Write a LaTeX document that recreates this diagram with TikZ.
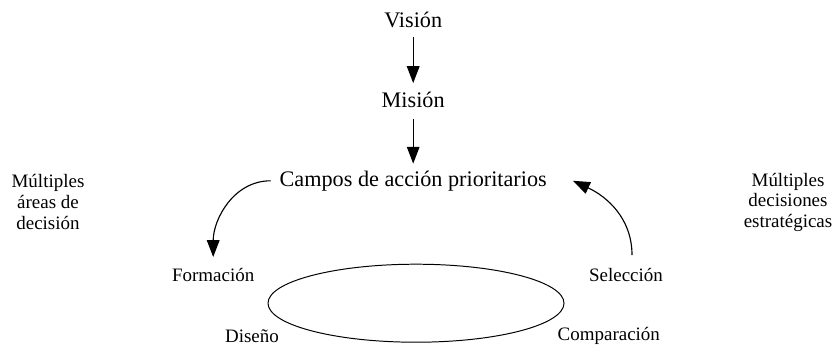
\documentclass[tikz,border=0pt]{standalone}
\usepackage{fontspec}
\setmainfont{Liberation Serif}
\usepackage{tikz}
\usetikzlibrary{shapes.geometric, arrows.meta, positioning}

\begin{document}
\begin{tikzpicture}[
        big/.style = {font=\fontsize{15.8}{19}\selectfont, inner sep=2pt},
        small/.style = {font=\fontsize{13.5}{14.6}\selectfont, align=center, inner sep=2pt},
        arr/.style = {-{Triangle[length=12pt, width=9pt]}, line width=0.8pt}
    ]
    \useasboundingbox (0,0) rectangle (20.875,-8.675);

    \node[big] (vision) at (10.33,-0.50) {Visión};
    \node[big] (mision) at (10.33,-2.50) {Misión};
    \node[big] (campos) at (10.33,-4.52) {Campos de acción prioritarios};

    \draw[arr] ([yshift=-0.15cm]vision.south) -- ([yshift=0.15cm]mision.north);
    \draw[arr] ([yshift=-0.2cm]mision.south) -- ([yshift=0.1cm]campos.north);

    \node[small] (areas) at (1.20,-5.05) {Múltiples\\áreas de\\decisión};
    \node[small] (estrategicas) at (19.70,-5.05) {Múltiples\\decisiones\\estratégicas};

    \node[small] (formacion) at (5.33,-6.87) {Formación};
    \node[small] (seleccion) at (15.65,-6.87) {Selección};
    \node[small] (diseno) at (6.30,-8.40) {Diseño};
    \node[small] (comparacion) at (15.22,-8.40) {Comparación};

    \node[draw, ellipse, line width=0.7pt, minimum width=7.4cm, minimum height=1.95cm] (ciclo) at (10.40,-7.58) {};

    \coordinate (izq) at ([xshift=-0.15cm]campos.west);
    \coordinate (der) at ([xshift=0.58cm]campos.east);
    \coordinate (sel) at ([xshift=0.15cm,yshift=0.25cm]seleccion.north);

    \draw[arr] (izq) to[out=180, in=90] ([yshift=0.2cm]formacion.north);
    \draw[arr] (sel) to[out=90, in=-25] (der);
\end{tikzpicture}
\end{document}
